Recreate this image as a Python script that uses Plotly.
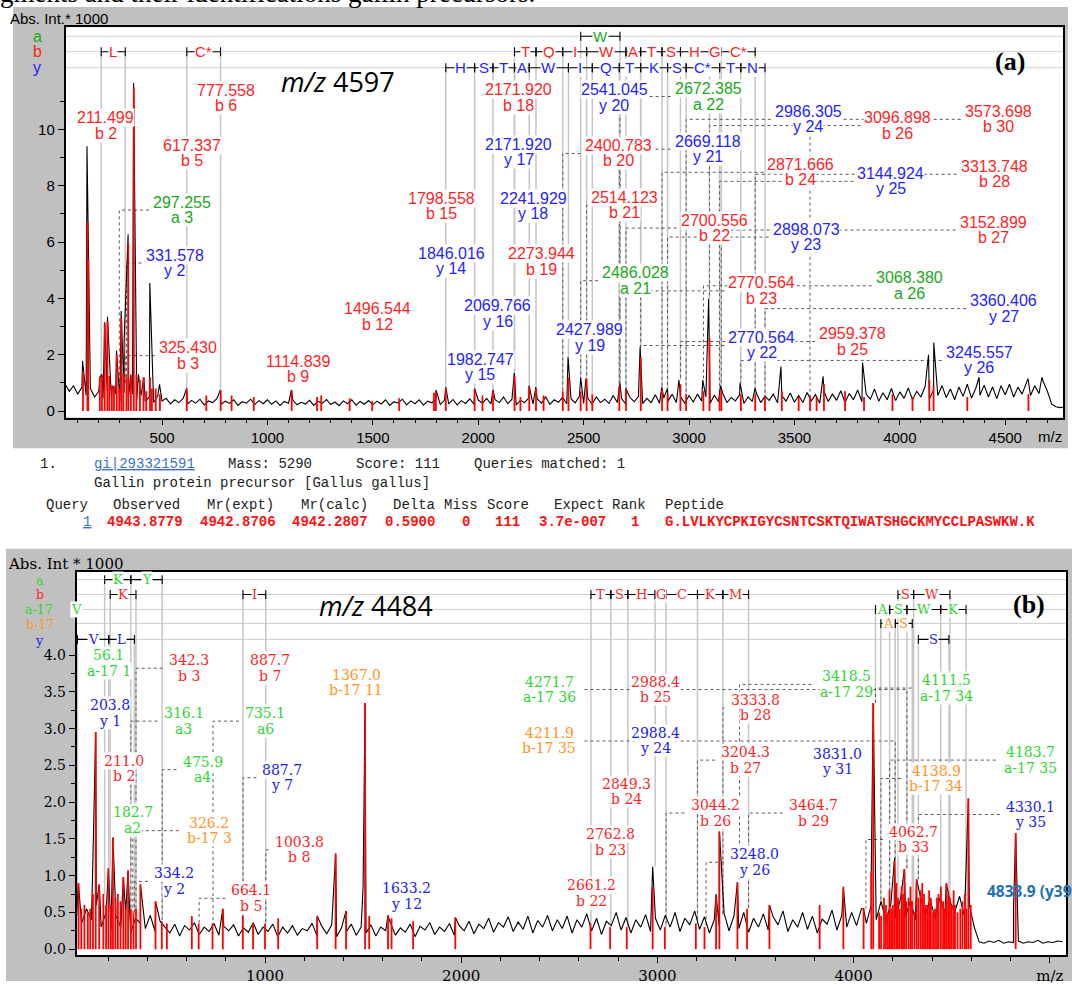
import plotly.graph_objects as go

FIG_W, FIG_H = 1072, 985

# ======================= TOP SPECTRUM (m/z 4597) =======================
top_base_start, top_base_step = 40, 20
top_baseline = [
    0.95, 0.7, 0.9, 0.6, 0.85, 0.55, 0.8, 0.5, 0.7,
    0.45, 0.7, 0.4, 0.6, 0.35, 0.65, 0.45, 0.6, 0.4, 0.55, 0.35, 0.5, 0.3, 0.55, 0.35,
    0.45, 0.25, 0.4, 0.3, 0.45, 0.25, 0.38, 0.28, 0.42, 0.22, 0.36, 0.3, 0.44, 0.24, 0.35, 0.27, 0.4, 0.2, 0.33, 0.28, 0.42, 0.23, 0.37, 0.26, 0.4,
    0.24, 0.36, 0.2, 0.34, 0.28, 0.4, 0.22, 0.31, 0.25, 0.38, 0.2, 0.35, 0.27, 0.41, 0.23, 0.32, 0.19, 0.36, 0.26, 0.4, 0.21, 0.34, 0.24, 0.37, 0.22,
    0.35, 0.25, 0.4, 0.2, 0.33, 0.28, 0.42, 0.22, 0.36, 0.26, 0.4, 0.21, 0.35, 0.29, 0.44, 0.23, 0.38, 0.25, 0.41, 0.22, 0.37, 0.27, 0.43, 0.24, 0.39,
    0.28, 0.45, 0.25, 0.4, 0.3, 0.5, 0.26, 0.42, 0.22, 0.38, 0.3, 0.47, 0.25, 0.43, 0.28, 0.5, 0.24, 0.4, 0.31, 0.48, 0.26, 0.44, 0.29, 0.52, 0.27,
    0.45, 0.25, 0.5, 0.3, 0.42, 0.27, 0.55, 0.3, 0.44, 0.24, 0.48, 0.33, 0.52, 0.26, 0.45, 0.3, 0.58, 0.28, 0.46, 0.35, 0.6, 0.3, 0.5, 0.28, 0.55,
    0.32, 0.6, 0.35, 0.5, 0.28, 0.56, 0.33, 0.62, 0.3, 0.48, 0.36, 0.58, 0.27, 0.5, 0.34, 0.63, 0.3, 0.52, 0.38, 0.6, 0.29, 0.55, 0.35, 0.64, 0.31,
    0.55, 0.3, 0.66, 0.36, 0.58, 0.28, 0.7, 0.34, 0.6, 0.38, 0.72, 0.3, 0.62, 0.4, 0.75, 0.33, 0.6, 0.42, 0.78, 0.35, 0.65, 0.4, 0.8, 0.37, 0.68,
    0.45, 0.82, 0.4, 0.7, 0.5, 0.88, 0.42, 0.75, 0.55, 0.9, 0.48, 0.78, 0.4, 0.85, 0.52, 0.95, 0.46, 0.8, 0.56, 0.92, 0.5, 0.86, 0.44, 0.9, 0.58,
    0.95, 0.5, 0.85, 0.6, 1.0, 0.55, 0.9, 0.62, 1.05, 0.7,
    0.25, 0.15, 0.12, 0.14,
]
top_peak_mz = [123, 144, 205, 214, 228, 241, 263, 284, 306, 320, 339, 352, 365, 388, 414, 442, 488, 617, 777, 1114,
               1800, 1846, 1983, 2070, 2171, 2241, 2273, 2426, 2486, 2511, 2672, 2700, 2768, 2871, 2898, 2952, 3065, 3093,
               3150, 3242, 3313, 3436, 3636, 3823, 4136, 4161, 4376, 4608, 4674]
top_peak_int = [1.78, 9.4, 1.2, 1.3, 3.15, 3.35, 0.9, 2.15, 3.55, 2.48, 6.28, 1.3, 11.65, 1.3, 1.2, 4.55, 0.95, 0.8, 0.75, 0.75,
                0.75, 0.85, 0.8, 0.75, 1.35, 0.9, 0.85, 1.93, 1.2, 1.15, 1.0, 0.8, 2.29, 0.85, 0.8, 1.1, 1.1, 3.99,
                0.9, 1.0, 0.8, 1.58, 1.23, 1.72, 2.0, 2.43, 1.2, 1.15, 1.2]
top_red_mz = [125, 146, 150, 205, 215, 228, 241, 250, 262, 272, 285, 297, 307, 316, 331, 340, 352, 366, 378, 395, 412, 425, 443, 452, 470, 490,
              617, 710, 778, 830, 935, 1115, 1235, 1255, 1390, 1497, 1625, 1790, 1799, 1846, 1983, 2020, 2070, 2172, 2200, 2242,
              2274, 2310, 2401, 2428, 2486, 2514, 2541, 2669, 2701, 2771, 2872, 2898, 2959, 2986, 3068, 3097, 3145, 3153, 3246, 3314,
              3360, 3440, 3520, 3574, 3605, 3640, 3740, 3830, 3965, 4060, 4140, 4160, 4320, 4610]
top_red_int = [1.4, 6.7, 5.4, 1.2, 1.3, 3.1, 3.2, 1.25, 0.9, 0.9, 2.0, 0.8, 3.3, 1.35, 1.2, 5.95, 1.2, 11.5, 1.3, 1.1, 1.2, 0.7, 1.2, 0.8, 0.8, 0.6,
               0.8, 0.55, 0.75, 0.55, 0.5, 0.75, 0.5, 0.55, 0.45, 0.35, 0.45, 0.65, 0.7, 0.8, 0.75, 0.55, 0.7, 1.25, 0.5, 0.85,
               0.8, 0.55, 0.7, 1.2, 0.7, 1.15, 0.6, 0.9, 0.75, 1.9, 0.75, 0.6, 0.95, 0.6, 0.7, 2.6, 0.6, 0.75, 0.6, 0.6,
               0.5, 0.7, 0.5, 0.55, 0.5, 0.95, 0.7, 0.5, 0.6, 0.5, 1.1, 0.9, 0.5, 0.6]

top_ion_value = ["211.499", "777.558", "617.337", "2171.920", "2171.920", "1798.558", "2241.929", "297.255", "331.578",
                 "1846.016", "2273.944", "2486.028", "1496.544", "2069.766", "2427.989", "325.430", "1114.839", "1982.747",
                 "2514.123", "2541.045", "2400.783", "2672.385", "2669.118", "2986.305", "3096.898", "3573.698", "2871.666",
                 "3144.924", "3313.748", "2700.556", "2898.073", "3152.899", "2770.564", "3068.380", "3360.406", "2770.564",
                 "2959.378", "3245.557"]
top_ion_name = ["b 2", "b 6", "b 5", "b 18", "y 17", "b 15", "y 18", "a 3", "y 2", "y 14", "b 19", "a 21", "b 12", "y 16",
                "y 19", "b 3", "b 9", "y 15", "b 21", "y 20", "b 20", "a 22", "y 21", "y 24", "b 26", "b 30", "b 24", "y 25",
                "b 28", "b 22", "y 23", "b 27", "b 23", "a 26", "y 27", "y 22", "b 25", "y 26"]
top_ion_int = [1.2, 0.75, 0.8, 1.3, 1.3, 0.7, 0.85, 0.5, 1.2, 0.85, 0.8, 1.2, 0.35, 0.75, 1.93, 1.0, 0.75, 0.8, 1.15, 0.6,
               0.7, 1.0, 1.0, 0.6, 3.99, 0.55, 0.85, 0.6, 0.6, 0.8, 0.8, 0.9, 2.29, 1.1, 0.5, 2.29, 1.1, 1.0]

top_ladder_a = [("W", 2486.028, 2672.385)]
top_ladder_b = [("L", 211.499, 325.430), ("C*", 617.337, 777.558), ("T", 2171.920, 2273.944), ("Q", 2273.944, 2400.783),
                ("I", 2400.783, 2514.123), ("W", 2514.123, 2700.556), ("A", 2700.556, 2770.564), ("T", 2770.564, 2871.666),
                ("S", 2871.666, 2959.378), ("H", 2959.378, 3096.898), ("G", 3096.898, 3152.899), ("C*", 3152.899, 3313.748)]
top_ladder_y = [("H", 1846.016, 1982.747), ("S", 1982.747, 2069.766), ("T", 2069.766, 2171.920), ("A", 2171.920, 2241.929),
                ("W", 2241.929, 2427.989), ("I", 2427.989, 2541.045), ("Q", 2541.045, 2669.118), ("T", 2669.118, 2770.564),
                ("K", 2770.564, 2898.073), ("S", 2898.073, 2986.305), ("C*", 2986.305, 3144.924), ("T", 3144.924, 3245.557),
                ("N", 3245.557, 3360.406)]

# ======================= BOTTOM SPECTRUM (m/z 4484) =======================
bot_base_start, bot_base_step = 40, 25
bot_baseline = [
    0.5, 0.35, 0.55, 0.4, 0.6, 0.3, 0.5, 0.25, 0.45,
    0.3, 0.5, 0.22, 0.42, 0.35, 0.28, 0.46, 0.24, 0.38, 0.3,
    0.22, 0.34, 0.18, 0.32, 0.26, 0.36, 0.2, 0.3, 0.24, 0.35, 0.19, 0.31, 0.25, 0.33, 0.18, 0.29, 0.23, 0.36, 0.2, 0.3,
    0.24, 0.34, 0.17, 0.3, 0.22, 0.32, 0.19, 0.28, 0.25, 0.35, 0.18, 0.31, 0.21, 0.33, 0.17, 0.29, 0.24, 0.34, 0.19, 0.3,
    0.22, 0.33, 0.18, 0.3, 0.25, 0.35, 0.19, 0.29, 0.23, 0.34, 0.17, 0.31, 0.26, 0.36, 0.2, 0.3, 0.24, 0.35, 0.19, 0.32,
    0.25, 0.38, 0.21, 0.34, 0.28, 0.42, 0.23, 0.36, 0.3, 0.44, 0.24, 0.37, 0.27, 0.45, 0.22, 0.39, 0.3, 0.46, 0.25, 0.4,
    0.28, 0.45, 0.22, 0.4, 0.3, 0.48, 0.25, 0.42, 0.2, 0.38, 0.32, 0.5, 0.26, 0.43, 0.22, 0.4, 0.3, 0.47, 0.24, 0.42,
    0.26, 0.46, 0.3, 0.5, 0.24, 0.42, 0.33, 0.52, 0.27, 0.44, 0.22, 0.4, 0.31, 0.49, 0.25, 0.45, 0.28, 0.5, 0.23, 0.42,
    0.3, 0.48, 0.26, 0.44, 0.33, 0.52, 0.24, 0.4, 0.3, 0.5, 0.27, 0.45, 0.22, 0.41, 0.34, 0.53, 0.26, 0.46, 0.3, 0.5,
    0.32, 0.55, 0.35, 0.6, 0.4, 0.65, 0.38, 0.62, 0.42, 0.7, 0.45, 0.66, 0.4, 0.72, 0.46, 0.68, 0.42, 0.7, 0.48, 0.66,
    0.5, 0.72, 0.45, 0.6, 0.3,
    0.1, 0.08, 0.11, 0.09, 0.12, 0.08, 0.1, 0.09, 0.11, 0.08, 0.1, 0.09, 0.12, 0.08, 0.1, 0.09, 0.11, 0.1,
]
bot_peak_mz = [49, 120, 137, 155, 202, 225, 278, 302, 365, 442, 785, 1266, 1360, 1413, 1500, 1510, 1627, 1970, 2976, 3299,
               3316, 3408, 3571, 3948, 4051, 4090, 4100, 4209, 4259, 4321, 4473, 4585, 4815, 4826]
bot_peak_int = [0.9, 0.88, 2.95, 0.88, 1.1, 1.52, 0.98, 1.07, 0.88, 0.65, 0.55, 0.45, 1.3, 0.52, 0.85, 3.35, 0.46, 0.43, 1.12, 0.75,
                1.6, 0.91, 0.6, 0.83, 0.55, 1.05, 3.35, 1.24, 1.09, 0.95, 0.9, 2.05, 0.55, 1.58]
bot_red_mz = [49.5, 63.7, 79.5, 96.8, 109, 123, 137, 155, 176, 190, 202, 214.5, 225, 237.5, 250, 263.5, 278, 290, 302, 316.5,
              330, 342.5, 365, 442, 474, 500, 627, 662, 732.5, 785, 887, 939, 1000, 1067, 1266, 1360, 1413, 1510, 1531, 1627,
              1645, 1755, 1970,
              2659, 2759, 2844, 2976, 3038, 3196, 3240, 3299, 3316, 3408, 3457, 3571, 3827, 3948, 4051, 4090, 4100, 4130, 4165, 4191,
              4209, 4226, 4245, 4259, 4280, 4298, 4321, 4341, 4359, 4377, 4394, 4415, 4433, 4456, 4473, 4491, 4517, 4544, 4567, 4585,
              4597, 4826,
              4140, 4155, 4175, 4183, 4200, 4218, 4235, 4252, 4268, 4290, 4310, 4330, 4350, 4368, 4385, 4405, 4425, 4445, 4465,
              4482, 4500, 4510, 4530, 4555, 4575]
bot_red_int = [0.9, 0.55, 0.6, 0.5, 0.55, 0.75, 2.95, 0.88, 0.75, 0.6, 1.1, 0.6, 1.52, 0.7, 0.75, 0.65, 0.98, 0.55, 1.07, 0.55,
               0.5, 0.55, 0.88, 0.65, 0.38, 0.35, 0.45, 0.35, 0.35, 0.55, 0.45, 0.35, 0.35, 0.42, 0.45, 1.3, 0.52, 3.35, 0.45, 0.46,
               0.42, 0.38, 0.43,
               0.35, 0.3, 0.3, 0.85, 0.3, 0.35, 0.3, 0.72, 1.6, 0.91, 0.55, 0.6, 0.6, 0.85, 0.55, 1.05, 3.35, 0.5, 0.6, 0.55,
               1.2, 0.7, 0.85, 1.09, 0.7, 0.65, 0.95, 0.8, 0.75, 0.6, 0.7, 0.55, 0.75, 0.65, 0.9, 0.7, 0.6, 0.55, 0.75, 2.05,
               0.6, 1.58,
               0.45, 0.7, 0.5, 0.8, 0.6, 0.9, 0.55, 0.75, 0.65, 0.85, 0.5, 0.7, 0.9, 0.6, 0.8, 0.5, 0.7, 0.85, 0.55,
               0.75, 0.6, 0.8, 0.5, 0.65, 0.55]

bot_ion_value = ["56.1", "342.3", "887.7", "1367.0", "203.8", "316.1", "735.1", "211.0", "475.9", "887.7", "182.7", "326.2",
                 "1003.8", "334.2", "664.1", "1633.2", "4271.7", "2988.4", "3333.8", "4211.9", "2988.4", "3204.3", "2849.3",
                 "3044.2", "2762.8", "2661.2", "3464.7", "3248.0", "3831.0", "4062.7", "4138.9", "4183.7", "4330.1", "3418.5",
                 "4111.5"]
bot_ion_name = ["a-17 1", "b 3", "b 7", "b-17 11", "y 1", "a3", "a6", "b 2", "a4", "y 7", "a2", "b-17 3", "b 8", "y 2", "b 5",
                "y 12", "a-17 36", "b 25", "b 28", "b-17 35", "y 24", "b 27", "b 24", "b 26", "b 23", "b 22", "b 29", "y 26",
                "y 31", "b 33", "b-17 34", "a-17 35", "y 35", "a-17 29", "a-17 34"]
bot_ion_int = [0.9, 0.55, 0.45, 1.3, 1.1, 0.55, 0.35, 1.1, 0.4, 0.45, 0.75, 0.5, 0.35, 0.5, 0.35, 0.46, 1.09, 1.12, 0.45, 1.2,
               1.12, 0.35, 0.3, 0.3, 0.3, 0.35, 0.55, 0.3, 0.6, 0.55, 0.6, 0.55, 0.95, 0.91, 3.35]

bot_ladder_a = [("K", 182.7, 316.1), ("Y", 316.1, 475.9)]
bot_ladder_b = [("K", 211.0, 342.3), ("I", 887.7, 1003.8), ("T", 2661.2, 2762.8), ("S", 2762.8, 2849.3), ("H", 2849.3, 2988.4),
                ("G", 2988.4, 3044.2), ("C", 3044.2, 3204.3), ("K", 3204.3, 3333.8), ("M", 3333.8, 3464.7),
                ("S", 4226, 4306), ("W", 4306, 4491)]
bot_ladder_a17 = [("A", 4111.5, 4183.7), ("S", 4183.7, 4271.7), ("W", 4271.7, 4444), ("K", 4444, 4573)]
bot_ladder_b17 = [("A", 4138.9, 4211.9), ("S", 4211.9, 4299)]
bot_ladder_y = [("V", 44, 203.8), ("L", 203.8, 334.2), ("S", 4330.1, 4486)]

# ======================= MASCOT RESULT TABLE =======================
hit_line = ["1.", "gi|293321591", "Mass: 5290", "Score: 111", "Queries matched: 1"]
protein_desc = "Gallin protein precursor [Gallus gallus]"
table_header = ["Query", "Observed", "Mr(expt)", "Mr(calc)", "Delta", "Miss", "Score", "Expect", "Rank", "Peptide"]
table_row = ["1", "4943.8779", "4942.8706", "4942.2807", "0.5900", "0", "111", "3.7e-007", "1",
             "G.LVLKYCPKIGYCSNTCSKTQIWATSHGCKMYCCLPASWKW.K"]

# ======================= LAYOUT (placement, pixels / data positions) =======================
TOP = dict(xdom=(65.5, 1063.0), ydom=(27.3, 419.3), xr=(42, 4774), yr=(-0.233, 13.63))
BOT = dict(xdom=(76.5, 1066.0), ydom=(574.0, 959.0), xr=(39.2, 5082.6), yr=(-0.081, 5.135))
for g in (TOP, BOT):
    g["ppx"] = (g["xdom"][1] - g["xdom"][0]) / (g["xr"][1] - g["xr"][0])
    g["ppy"] = (g["ydom"][1] - g["ydom"][0]) / (g["yr"][1] - g["yr"][0])

top_lab_x = [234, 801, 640, 2193, 2193, 1826, 2260, 595, 560, 1871, 2298, 2746, 1520, 2092, 2530, 622, 1145, 2009, 2696,
             2644, 2663, 3090, 3090, 3565, 3991, 4466, 3531, 3958, 4447, 3119, 3555, 4442, 3346, 4044, 4492, 3346, 3776, 4376]
top_lab_y = [10.42, 11.38, 9.43, 11.41, 9.47, 7.56, 7.56, 7.42, 5.54, 5.61, 5.58, 4.91, 3.63, 3.74, 2.89, 2.25, 1.76, 1.83,
             7.59, 11.41, 9.43, 11.45, 9.58, 10.64, 10.42, 10.64, 8.76, 8.44, 8.69, 6.78, 6.46, 6.71, 4.55, 4.73, 3.92, 2.61,
             2.75, 2.08]
top_rows = {"a": 13.31, "b": 12.76, "y": 12.19}

bot_lab_x = [202.4, 611, 1025.5, 1465.9, 207.5, 584.6, 1000, 281.3, 681.4, 1088.7, 325.2, 716.6, 1173.3, 536.2, 930.7, 1718.7,
             2449, 2987.8, 3497.5, 2449, 2987.8, 3450, 2843.5, 3293.6, 2761, 2664, 3795, 3496, 3915.4, 4306, 4420, 4904,
             4901.6, 3965, 4474.5]
bot_lab_y = [4.0, 3.93, 3.93, 3.73, 3.32, 3.21, 3.21, 2.56, 2.55, 2.44, 1.86, 1.72, 1.46, 1.03, 0.80, 0.83, 3.64, 3.64, 3.39,
             2.94, 2.94, 2.68, 2.25, 1.96, 1.56, 0.87, 1.96, 1.29, 2.66, 1.60, 2.43, 2.68, 1.94, 3.71, 3.66]
bot_rows = {"a": 5.027, "b": 4.824, "a-17": 4.621, "b-17": 4.431, "y": 4.214}

TOP_COLORS = {"a": "#20a820", "b": "#ff1f1f", "y": "#2424ff"}
BOT_COLORS = {"a": "#2fd62f", "a-17": "#2fd62f", "b": "#ff1f1f", "b-17": "#ff9528", "y": "#2020f0"}

GRAY_LINE = "#c6c6c6"
LEADER = "#5a5a5a"


def px(xp):
    return xp / FIG_W


def py(yp):
    return 1 - yp / FIG_H


def kind_of(name):
    for k in ("a-17", "b-17"):
        if name.startswith(k):
            return k
    return name[0]


def build_panel(xa, ya, g, base_start, base_step, baseline, pk_mz, pk_int, red_mz, red_int,
                ion_value, ion_name, ion_int, lab_x, lab_y, ladders, rows, colors,
                font_family, font_size, charw, default_int, line_gap):
    traces, anns = [], []
    ppx, ppy = g["ppx"], g["ppy"]
    x0, x1 = g["xr"]
    ion_mz = [float(v) for v in ion_value]
    ion_kind = [kind_of(n) for n in ion_name]
    common = dict(xaxis=xa, yaxis=ya, hoverinfo="skip", showlegend=False)

    # horizontal ladder rows
    rx, ry = [], []
    for v in rows.values():
        rx += [x0, x1, None]
        ry += [v, v, None]
    traces.append(go.Scatter(x=rx, y=ry, mode="lines", line=dict(color="#cfcfcf", width=1), **common))

    # gray vertical lines from the ladder rows down to the peaks
    gx, gy = [], []
    for kind, segs in ladders.items():
        v_row = rows[kind]
        ends = sorted(set([s[1] for s in segs] + [s[2] for s in segs]))
        for m in ends:
            cands = [ion_int[i] for i in range(len(ion_mz)) if ion_kind[i] == kind and abs(ion_mz[i] - m) < 0.6]
            v_end = cands[0] if cands else default_int
            gx += [m, m, None]
            gy += [v_row, v_end, None]
    traces.append(go.Scatter(x=gx, y=gy, mode="lines", line=dict(color=GRAY_LINE, width=1.5), **common))

    # dotted leaders from offset labels to their peaks
    lx, ly = [], []
    for i in range(len(ion_mz)):
        dx = (lab_x[i] - ion_mz[i]) * ppx
        if abs(dx) > 30:
            half = max(len(ion_value[i]), len(ion_name[i])) * charw / 2 + 3
            edge = lab_x[i] - (1 if dx > 0 else -1) * half / ppx
            ymid = lab_y[i] - 8 / ppy
            lx += [edge, ion_mz[i], ion_mz[i], None]
            ly += [ymid, ymid, ion_int[i], None]
    traces.append(go.Scatter(x=lx, y=ly, mode="lines", line=dict(color=LEADER, width=1, dash="dot"), **common))

    # black spectrum: baseline samples merged with peak apexes
    pts = [(base_start + base_step * k, v) for k, v in enumerate(baseline)] + list(zip(pk_mz, pk_int))
    pts.sort()
    traces.append(go.Scatter(x=[p[0] for p in pts], y=[p[1] for p in pts], mode="lines",
                             line=dict(color="black", width=1.1), **common))

    # red matched-peak sticks
    sx, sy = [], []
    for m, h in zip(red_mz, red_int):
        sx += [m, m, None]
        sy += [0, h, None]
    traces.append(go.Scatter(x=sx, y=sy, mode="lines", line=dict(color="#ff0000", width=1.8), **common))

    # ladder brackets (black segments and ticks) and residue letters
    bx, by = [], []
    th = 4.5 / ppy
    for kind, segs in ladders.items():
        v = rows[kind]
        for letter, m1, m2 in segs:
            bx += [m1, m2, None, m1, m1, None, m2, m2, None]
            by += [v, v, None, v - th, v + th, None, v - th, v + th, None]
            anns.append(dict(x=(m1 + m2) / 2, y=v, xref=xa, yref=ya, text=letter, showarrow=False,
                             font=dict(family=font_family, size=font_size - 1, color=colors[kind]),
                             bgcolor="white", borderpad=0, xanchor="center", yanchor="middle"))
    traces.append(go.Scatter(x=bx, y=by, mode="lines", line=dict(color="black", width=1.1), **common))

    # two-line peak labels
    for i in range(len(ion_mz)):
        col = colors[ion_kind[i]]
        for txt, yy in ((ion_value[i], lab_y[i]), (ion_name[i], lab_y[i] - line_gap / ppy)):
            anns.append(dict(x=lab_x[i], y=yy, xref=xa, yref=ya, text=txt, showarrow=False,
                             font=dict(family=font_family, size=font_size, color=col),
                             bgcolor="white", borderpad=0, xanchor="center", yanchor="middle"))
    return traces, anns


fig = go.Figure()

t_tr, t_an = build_panel("x", "y", TOP, top_base_start, top_base_step, top_baseline, top_peak_mz, top_peak_int,
                         top_red_mz, top_red_int, top_ion_value, top_ion_name, top_ion_int, top_lab_x, top_lab_y,
                         {"a": top_ladder_a, "b": top_ladder_b, "y": top_ladder_y}, top_rows, TOP_COLORS,
                         "Liberation Sans", 16, 8.6, 0.5, 15.5)
b_tr, b_an = build_panel("x2", "y2", BOT, bot_base_start, bot_base_step, bot_baseline, bot_peak_mz, bot_peak_int,
                         bot_red_mz, bot_red_int, bot_ion_value, bot_ion_name, bot_ion_int, bot_lab_x, bot_lab_y,
                         {"a": bot_ladder_a, "b": bot_ladder_b, "a-17": bot_ladder_a17, "b-17": bot_ladder_b17,
                          "y": bot_ladder_y}, bot_rows, BOT_COLORS,
                         "DejaVu Serif", 14, 9.2, 0.45, 15.5)
for tr in t_tr + b_tr:
    fig.add_trace(tr)

annotations = t_an + b_an


def paper_text(xp, yp, text, family, size, color, xanchor="left", yanchor="middle", bg=None):
    d = dict(x=px(xp), y=py(yp), xref="paper", yref="paper", text=text, showarrow=False,
             font=dict(family=family, size=size, color=color), xanchor=xanchor, yanchor=yanchor)
    if bg:
        d["bgcolor"] = bg
        d["borderpad"] = 0
    return d


# cut-off caption at the very top of the page
annotations.append(paper_text(-2, 10, "gments and their identifications gallin precursors.", "Liberation Serif", 27,
                              "black", yanchor="bottom"))
# top panel texts
annotations.append(paper_text(8, 19, "Abs. Int.* 1000", "Liberation Sans", 15, "black"))
for lbl, yy in (("a", 37), ("b", 52), ("y", 68)):
    annotations.append(paper_text(37, yy, lbl, "Liberation Sans", 16, TOP_COLORS[lbl], xanchor="center"))
annotations.append(paper_text(337.5, 82, "<i>m/z</i> 4597", "Open Sans", 27, "black", xanchor="center"))
annotations.append(paper_text(1010, 62, "<b>(a)</b>", "Liberation Serif", 26, "black", xanchor="center"))
annotations.append(paper_text(1050, 438, "m/z", "Liberation Sans", 15, "black", xanchor="center"))

# bottom panel texts
annotations.append(paper_text(6, 566, "Abs. Int * 1000", "DejaVu Serif", 15, "black"))
for lbl, xx, yy in (("a", 39.6, 583), ("b", 39.6, 597), ("a-17", 38.7, 612), ("b-17", 39.6, 627), ("y", 39.6, 643)):
    annotations.append(paper_text(xx, yy, lbl, "DejaVu Serif", 12.5, BOT_COLORS[lbl], xanchor="center"))
annotations.append(paper_text(76, 612, "V", "DejaVu Serif", 13, BOT_COLORS["a-17"], xanchor="center", bg="white"))
annotations.append(paper_text(376, 608, "<i>m/z</i> 4484", "Open Sans", 27, "black", xanchor="center"))
annotations.append(paper_text(1029, 607, "<b>(b)</b>", "Liberation Serif", 26, "black", xanchor="center"))
annotations.append(paper_text(985, 895, "<b>4833.9 (y39)</b>", "Open Sans", 15.5, "#1d72b8"))

# Mascot table (monospace)
MONO = "Liberation Mono"
hit_x = [38, 92, 226, 354, 472]
for txt, xx in zip(hit_line, hit_x):
    if txt.startswith("gi|"):
        annotations.append(paper_text(xx, 466, "<u>" + txt + "</u>", MONO, 14, "#3a6fd0"))
    else:
        annotations.append(paper_text(xx, 466, txt, MONO, 14, "#222222"))
annotations.append(paper_text(92, 485, protein_desc, MONO, 14, "#222222"))
head_x = [44, 111, 205, 299, 391, 442, 485, 552, 610, 663]
for txt, xx in zip(table_header, head_x):
    annotations.append(paper_text(xx, 507, txt, MONO, 14, "#222222"))
row_x = [81, 105, 198, 290, 383, 460, 493, 537, 629, 663]
for k, (txt, xx) in enumerate(zip(table_row, row_x)):
    if k == 0:
        annotations.append(paper_text(xx, 524, "<u>" + txt + "</u>", MONO, 14, "#3a6fd0"))
    else:
        annotations.append(paper_text(xx, 524, "<b>" + txt + "</b>", MONO, 14, "#ff1010"))

# panels: gray backgrounds and white plotting areas
shapes = []
for (gx0, gy0, gx1, gy1), g in (((13, 7, 1068, 450), TOP), ((6, 551, 1072, 985), BOT)):
    shapes.append(dict(type="rect", xref="paper", yref="paper", x0=px(gx0), x1=px(gx1), y0=py(gy1), y1=py(gy0),
                       fillcolor="#c0c0c0", line=dict(width=0), layer="below"))
    shapes.append(dict(type="rect", xref="paper", yref="paper", x0=px(g["xdom"][0]), x1=px(g["xdom"][1]),
                       y0=py(g["ydom"][1]), y1=py(g["ydom"][0]), fillcolor="white", line=dict(width=0), layer="below"))

axis_common = dict(showline=True, linecolor="black", linewidth=1.5, mirror=True, ticks="outside", ticklen=6,
                   tickcolor="black", tickwidth=1, showgrid=False, zeroline=False)

fig.update_layout(
    width=FIG_W, height=FIG_H, margin=dict(l=0, r=0, t=0, b=0),
    paper_bgcolor="white", plot_bgcolor="white", showlegend=False,
    shapes=shapes, annotations=annotations,
    xaxis=dict(domain=[px(TOP["xdom"][0]), px(TOP["xdom"][1])], range=list(TOP["xr"]), anchor="y",
               tickvals=[500, 1000, 1500, 2000, 2500, 3000, 3500, 4000, 4500],
               minor=dict(tickvals=[v for v in range(100, 4800, 100) if v % 500], ticks="outside", ticklen=4,
                          tickcolor="black"),
               tickfont=dict(family="Liberation Sans", size=15, color="black"), **axis_common),
    yaxis=dict(domain=[py(TOP["ydom"][1]), py(TOP["ydom"][0])], range=list(TOP["yr"]), anchor="x",
               tickvals=[0, 2, 4, 6, 8, 10],
               minor=dict(tickvals=[1, 3, 5, 7, 9, 11], ticks="outside", ticklen=4, tickcolor="black"),
               tickfont=dict(family="Liberation Sans", size=15, color="black"), **axis_common),
    xaxis2=dict(domain=[px(BOT["xdom"][0]), px(BOT["xdom"][1])], range=list(BOT["xr"]), anchor="y2",
                tickvals=[1000, 2000, 3000, 4000, 5000], ticktext=["1000", "2000", "3000", "4000", "m/z"],
                minor=dict(tickvals=[v for v in range(200, 5000, 200) if v % 1000], ticks="outside", ticklen=4,
                           tickcolor="black"),
                tickfont=dict(family="DejaVu Serif", size=15, color="black"), **axis_common),
    yaxis2=dict(domain=[py(BOT["ydom"][1]), py(BOT["ydom"][0])], range=list(BOT["yr"]), anchor="x2",
                tickvals=[0, 0.5, 1.0, 1.5, 2.0, 2.5, 3.0, 3.5, 4.0],
                ticktext=["0.0", "0.5", "1.0", "1.5", "2.0", "2.5", "3.0", "3.5", "4.0"],
                minor=dict(tickvals=[0.25, 0.75, 1.25, 1.75, 2.25, 2.75, 3.25, 3.75], ticks="outside", ticklen=4,
                           tickcolor="black"),
                tickfont=dict(family="DejaVu Serif", size=14, color="black"), **axis_common),
)

fig.write_html("out.html")
